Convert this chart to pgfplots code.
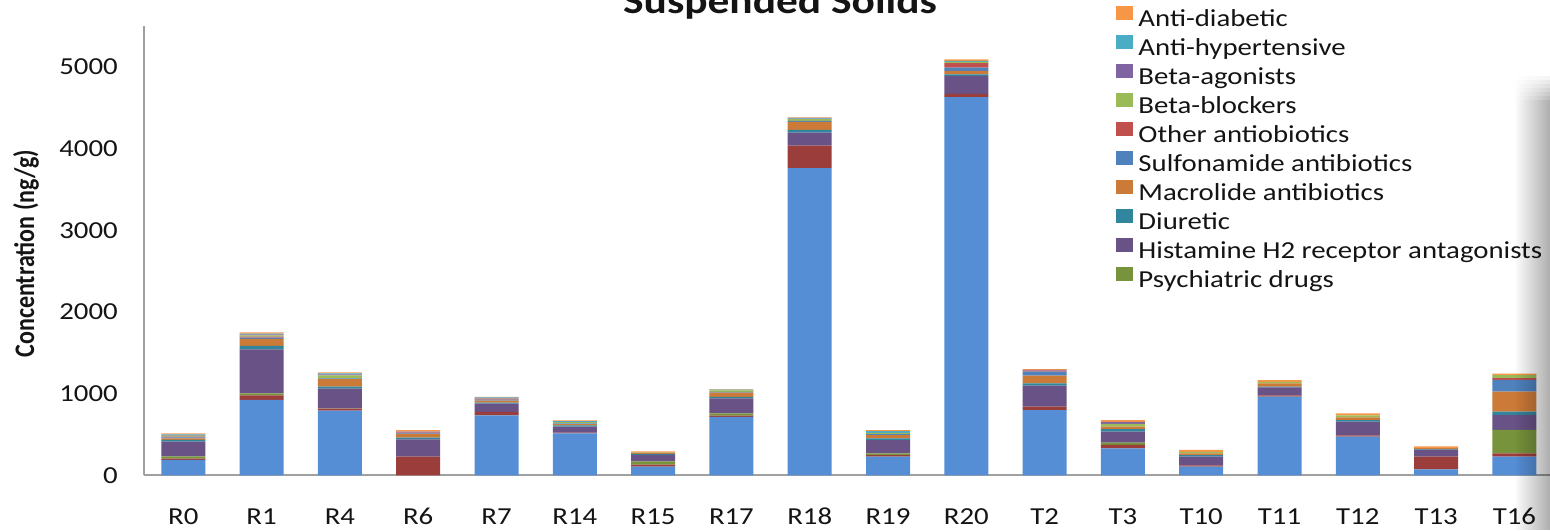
\documentclass[border=0pt]{standalone}
\usepackage{graphicx}
\usepackage{pgfplots}
\pgfplotsset{compat=1.18}
\usepackage{pgfplotstable}
\usepackage{fontspec}
\setmainfont{Carlito}[FakeStretch=1.18]
\newfontfamily\plainfont{Carlito}
\usetikzlibrary{fadings}

\definecolor{cBase}{RGB}{85,142,213}
\definecolor{cBaseTwo}{RGB}{155,61,59}
\definecolor{cPsy}{RGB}{119,147,60}
\definecolor{cHis}{RGB}{104,82,134}
\definecolor{cDiu}{RGB}{49,133,156}
\definecolor{cMac}{RGB}{204,122,56}
\definecolor{cSul}{RGB}{79,129,189}
\definecolor{cOth}{RGB}{192,80,77}
\definecolor{cBB}{RGB}{155,187,89}
\definecolor{cBA}{RGB}{128,100,162}
\definecolor{cAH}{RGB}{75,172,198}
\definecolor{cAD}{RGB}{247,150,70}
\definecolor{axgray}{RGB}{160,160,160}
\definecolor{txt}{RGB}{20,20,20}

% Concentrations (ng/g) per site, stacked from the bottom up
\pgfplotstableread{
x  s1   s2  psy his diu mac sul oth bb ba ah ad
0  188  16  29  180 20  20  12  8   12 8  8  12
1  922  57  24  539 41  86  16  12  16 12 8  16
2  791  24  4   241 24  94  8   0   37 12 12 12
3  0    229 0   212 20  45  8   8   0  12 0  20
4  734  41  0   102 12  24  12  12  4  8  4  8
5  514  8   0   73  16  16  8   0   16 4  8  8
6  106  24  41  78  12  16  0   0   4  0  0  12
7  714  16  29  184 16  53  8   0   20 0  8  8
8  3758 278 0   159 33  98  12  0   20 8  8  8
9  228  20  20  163 20  41  12  0   16 0  20 12
10 4627 41  0   220 20  41  41  53  16 0  12 20
11 799  41  0   257 29  94  49  12  0  8  0  12
12 330  41  29  135 29  33  0   0   33 24 0  20
13 106  16  0   106 20  20  0   0   20 0  0  24
14 962  16  0   98  8   41  0   0   20 0  0  20
15 473  16  0   167 20  33  0   0   24 0  0  24
16 73   155 0   82  8   16  0   0   0  0  0  20
17 228  41  286 184 41  245 143 20  37 0  0  20
}\solids

\begin{document}
\begin{tikzpicture}
\useasboundingbox (0pt,0pt) rectangle (775pt,-265pt);
\clip (0pt,0pt) rectangle (775pt,-265pt);
\begin{axis}[
  at={(72.075pt,-237.65pt)}, anchor=south west,
  scale only axis, width=704.7pt, height=224.7pt,
  xmin=-0.5, xmax=17.5, ymin=0, ymax=5500,
  ybar stacked, bar width=22pt,
  xtick={0,...,17},
  xticklabels={R0,R1,R4,R6,R7,R14,R15,R17,R18,R19,R20,T2,T3,T10,T11,T12,T13,T16},
  ytick={0,1000,2000,3000,4000,5000},
  axis x line*=bottom, axis y line*=left,
  axis line style={-},
  x axis line style={draw=axgray, line width=1pt},
  y axis line style={draw=axgray, line width=0.7pt},
  major tick length=0pt,
  tick style={draw=none},
  /pgf/number format/assume math mode=true,
  /pgf/number format/1000 sep={},
  ticklabel style={font=\fontsize{12.2pt}{14pt}\selectfont, text=txt, inner sep=0pt},
  yticklabel style={anchor=east, xshift=-13pt},
  xticklabel style={anchor=base, yshift=-24.4pt},
  reverse legend,
  legend cell align=left,
  legend style={at={(axis description cs:0.6896,1.0443)}, anchor=north west,
    draw=none, fill=none, inner sep=0pt, text=txt,
    font=\fontsize{12.2pt}{14pt}\selectfont,
    row sep=1.5pt, column sep=2.5pt,
    nodes={inner sep=0pt, text height=9pt, text depth=3pt}},
  legend image code/.code={\fill[#1] (0pt,0pt) rectangle (8.5pt,7pt);},
  every axis plot/.append style={draw=none},
]
\addplot+[fill=cBase, forget plot] table[x=x, y=s1] {\solids};
\addplot+[fill=cBaseTwo, forget plot] table[x=x, y=s2] {\solids};
\addplot+[fill=cPsy] table[x=x, y=psy] {\solids};
\addlegendentry{Psychiatric drugs}
\addplot+[fill=cHis] table[x=x, y=his] {\solids};
\addlegendentry{Histamine H2 receptor antagonists}
\addplot+[fill=cDiu] table[x=x, y=diu] {\solids};
\addlegendentry{Diuretic}
\addplot+[fill=cMac] table[x=x, y=mac] {\solids};
\addlegendentry{Macrolide antibiotics}
\addplot+[fill=cSul] table[x=x, y=sul] {\solids};
\addlegendentry{Sulfonamide antibiotics}
\addplot+[fill=cOth] table[x=x, y=oth] {\solids};
\addlegendentry{Other antiobiotics}
\addplot+[fill=cBB] table[x=x, y=bb] {\solids};
\addlegendentry{Beta-blockers}
\addplot+[fill=cBA] table[x=x, y=ba] {\solids};
\addlegendentry{Beta-agonists}
\addplot+[fill=cAH] table[x=x, y=ah] {\solids};
\addlegendentry{Anti-hypertensive}
\addplot+[fill=cAD] table[x=x, y=ad] {\solids};
\addlegendentry{Anti-diabetic}
\end{axis}
% chart title and vertical axis label
\node[anchor=base, text=txt, font=\fontsize{18.4pt}{22pt}\selectfont\bfseries]
  at (390pt,-6.75pt) {Suspended Solids};
\node[rotate=90, anchor=base, text=txt] at (17pt,-126.75pt)
  {\scalebox{1}[1.18]{\plainfont\bfseries\fontsize{12pt}{14pt}\selectfont Concentration (ng/g)}};
% soft shadow along the right edge, fading in at its top
\fill[black, opacity=0.32, path fading=west] (757pt,-50pt) rectangle (775pt,-265pt);
\foreach \k in {1,...,6}{
  \fill[black, opacity=0.045*\k, path fading=west]
    (757pt,{-36pt-2*\k*1pt}) rectangle (775pt,{-38pt-2*\k*1pt});
}
\end{tikzpicture}
\end{document}
